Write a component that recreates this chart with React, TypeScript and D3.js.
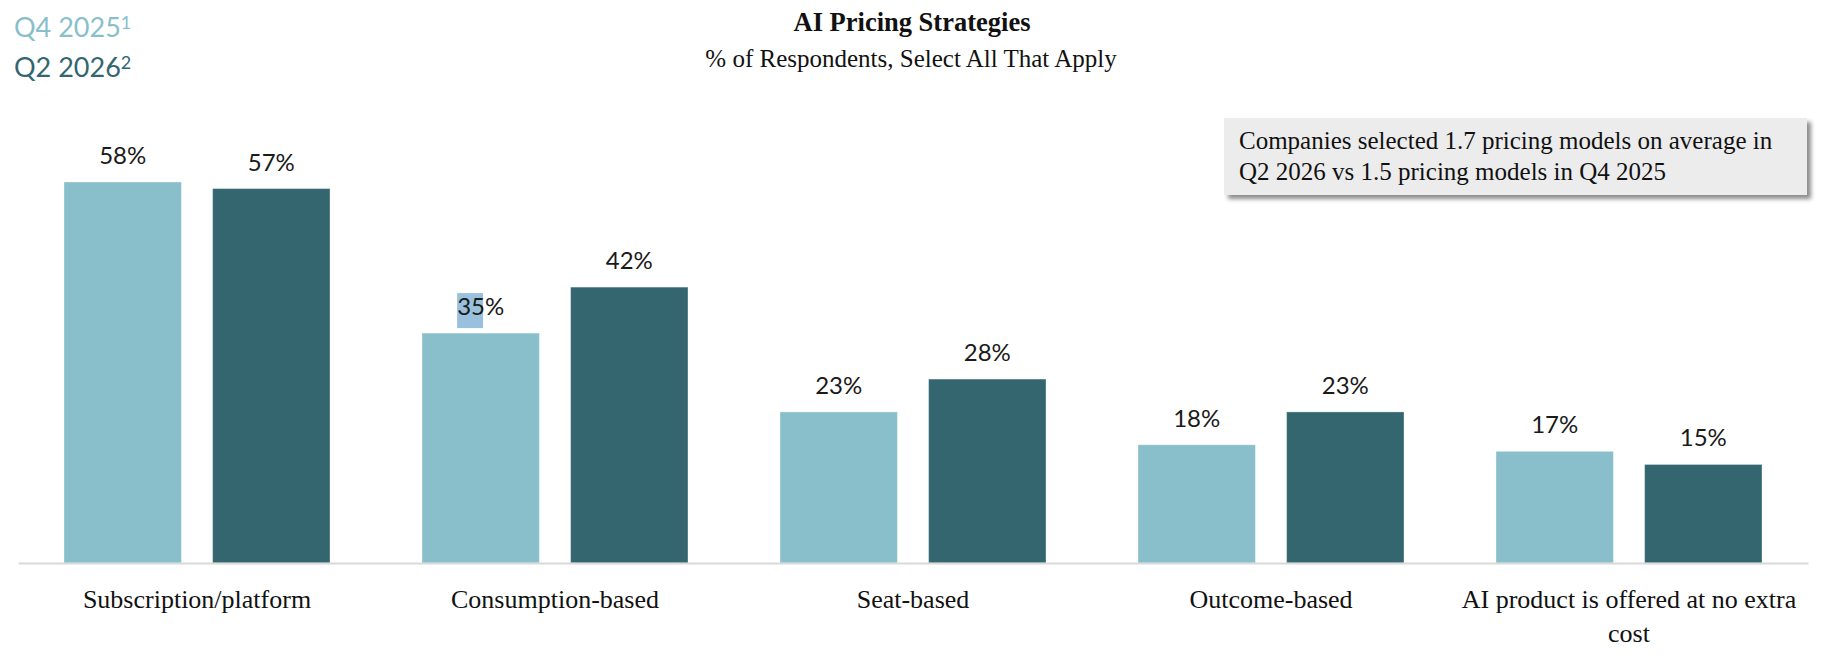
import React, { useEffect, useRef } from 'react';
import * as d3 from 'd3';

/* ── Data ─────────────────────────────────────────────────────── */
const categories = [
  'Subscription/platform',
  'Consumption-based',
  'Seat-based',
  'Outcome-based',
  'AI product is offered at no extra cost',
];
const seriesNames = ['Q4 2025', 'Q2 2026'];
const seriesSup = ['1', '2'];
const q4_2025 = [58, 35, 23, 18, 17];
const q2_2026 = [57, 42, 28, 23, 15];
const seriesValues = [q4_2025, q2_2026];

const title = 'AI Pricing Strategies';
const subtitle = '% of Respondents, Select All That Apply';
const noteLines = [
  'Companies selected 1.7 pricing models on average in',
  'Q2 2026 vs 1.5 pricing models in Q4 2025',
];

/* ── Styling ──────────────────────────────────────────────────── */
const W = 1832;
const H = 659;
const colors = ['#88bfca', '#33666f'];
const serif = '"Liberation Serif", "Times New Roman", serif';
const sans = 'Lato, "Open Sans", sans-serif';

export default function App() {
  const ref = useRef<SVGSVGElement | null>(null);

  useEffect(() => {
    if (!ref.current) return;
    const svg = d3.select(ref.current);
    svg.selectAll('*').remove();

    const baseY = 563;
    const x0 = d3.scaleBand<string>().domain(categories).range([18, 1808]);
    const x1 = d3
      .scaleBand<string>()
      .domain(seriesNames)
      .range([46, 312])
      .paddingInner(0.21);
    const y = d3
      .scaleLinear()
      .domain([0, d3.max(seriesValues.flat()) || 1])
      .range([baseY, 182]);

    const defs = svg.append('defs');
    defs
      .append('filter')
      .attr('id', 'shadow')
      .attr('x', '-5%')
      .attr('y', '-20%')
      .attr('width', '115%')
      .attr('height', '160%')
      .append('feDropShadow')
      .attr('dx', 4)
      .attr('dy', 4)
      .attr('stdDeviation', 2)
      .attr('flood-color', '#000')
      .attr('flood-opacity', 0.45);

    /* Title block */
    svg
      .append('text')
      .attr('x', 912)
      .attr('y', 31)
      .attr('text-anchor', 'middle')
      .attr('font-family', serif)
      .attr('font-weight', 'bold')
      .attr('font-size', 26.5)
      .attr('fill', '#111')
      .text(title);
    svg
      .append('text')
      .attr('x', 911)
      .attr('y', 67)
      .attr('text-anchor', 'middle')
      .attr('font-family', serif)
      .attr('font-size', 25)
      .attr('fill', '#111')
      .text(subtitle);

    /* Legend */
    const legendY = [37, 77];
    seriesNames.forEach((name, i) => {
      const t = svg
        .append('text')
        .attr('x', 14)
        .attr('y', legendY[i])
        .attr('font-family', sans)
        .attr('font-size', 27)
        .attr('fill', colors[i])
        .text(name);
      t.append('tspan')
        .attr('dy', -8)
        .attr('font-size', 18)
        .text(seriesSup[i]);
    });

    /* Note box */
    const note = svg.append('g');
    note
      .append('rect')
      .attr('x', 1224)
      .attr('y', 118)
      .attr('width', 583)
      .attr('height', 77)
      .attr('fill', '#ececec')
      .attr('filter', 'url(#shadow)');
    note
      .selectAll('text')
      .data(noteLines)
      .join('text')
      .attr('x', 1239)
      .attr('y', (_, i) => 149 + i * 31)
      .attr('font-family', serif)
      .attr('font-size', 25)
      .attr('fill', '#111')
      .text(d => d);

    /* Bars */
    const groups = svg
      .append('g')
      .selectAll('g')
      .data(categories)
      .join('g')
      .attr('transform', d => `translate(${x0(d)},0)`);

    const cells = groups
      .selectAll('g')
      .data((_, ci) => seriesNames.map((s, si) => ({ s, si, ci, v: seriesValues[si][ci] })))
      .join('g');

    cells
      .append('rect')
      .attr('x', d => x1(d.s)!)
      .attr('y', d => y(d.v))
      .attr('width', x1.bandwidth())
      .attr('height', d => baseY - y(d.v))
      .attr('fill', d => colors[d.si])
      .attr('stroke', '#ffffff')
      .attr('stroke-opacity', 0.35)
      .attr('stroke-width', 1);

    const labels = cells
      .append('text')
      .attr('x', d => x1(d.s)! + x1.bandwidth() / 2)
      .attr('y', d => y(d.v) - 18)
      .attr('text-anchor', 'middle')
      .attr('font-family', sans)
      .attr('font-size', 24)
      .attr('fill', '#1a1a1a')
      .text(d => `${d.v}%`);

    // selection highlight that sits on the first "35%" label in the source
    labels
      .filter(d => d.ci === 1 && d.si === 0)
      .each(function () {
        const bb = (this as SVGTextElement).getBBox();
        d3.select((this as SVGTextElement).parentNode as SVGGElement)
          .insert('rect', 'text')
          .attr('x', bb.x)
          .attr('y', bb.y + 2)
          .attr('width', bb.width * 0.55)
          .attr('height', bb.height + 6)
          .attr('fill', '#99c0dc');
      });

    /* Axis */
    const axis = svg
      .append('g')
      .attr('transform', `translate(0,${baseY})`)
      .call(d3.axisBottom(x0).tickSize(0).tickSizeOuter(0));
    axis.select('.domain').attr('stroke', '#d9d9d9').attr('stroke-width', 2);
    axis
      .selectAll<SVGTextElement, string>('text')
      .attr('font-family', serif)
      .attr('font-size', 26)
      .attr('fill', '#111')
      .attr('y', 45)
      .attr('dy', 0)
      .each(function (d) {
        const text = d3.select(this);
        const words = d.split(' ');
        text.text(null);
        let line: string[] = [];
        let tspan = text.append('tspan').attr('x', 0).attr('dy', 0);
        for (const w of words) {
          line.push(w);
          tspan.text(line.join(' '));
          if ((tspan.node() as SVGTSpanElement).getComputedTextLength() > 340 && line.length > 1) {
            line.pop();
            tspan.text(line.join(' '));
            line = [w];
            tspan = text.append('tspan').attr('x', 0).attr('dy', 34).text(w);
          }
        }
      });
  }, []);

  return (
    <>
      <style>{'body{margin:0;background:#fff}'}</style>
      <svg ref={ref} width={W} height={H} style={{ display: 'block' }} />
    </>
  );
}
